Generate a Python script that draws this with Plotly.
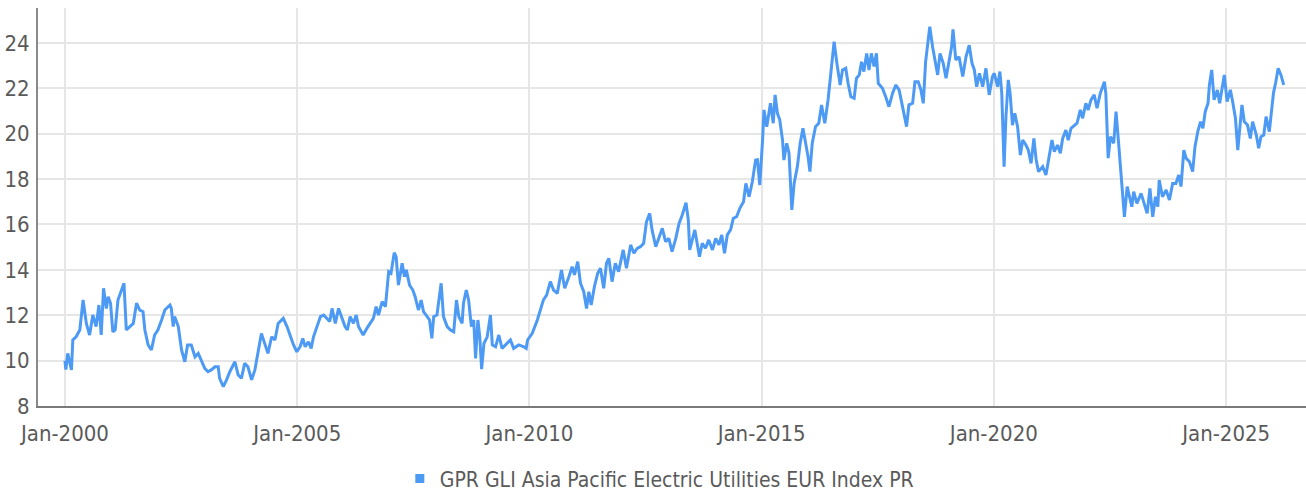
import pandas as pd
import plotly.graph_objects as go

SERIES_NAME = "GPR GLI Asia Pacific Electric Utilities EUR Index PR"

# Decimal-year positions of the points
YEARS = [
    2000.00, 2000.02, 2000.06, 2000.14, 2000.17, 2000.24, 2000.32, 2000.39, 2000.46, 2000.53,
    2000.60, 2000.67, 2000.73, 2000.78, 2000.83, 2000.89, 2000.93, 2000.98, 2001.03, 2001.08,
    2001.14, 2001.21, 2001.27, 2001.32, 2001.39, 2001.47, 2001.54, 2001.61, 2001.68, 2001.72,
    2001.79, 2001.86, 2001.93, 2002.00, 2002.08, 2002.15, 2002.26, 2002.29, 2002.33, 2002.36,
    2002.44, 2002.51, 2002.58, 2002.64, 2002.72, 2002.80, 2002.87, 2002.94, 2003.01, 2003.08,
    2003.15, 2003.23, 2003.30, 2003.33, 2003.41, 2003.48, 2003.55, 2003.66, 2003.73, 2003.80,
    2003.87, 2003.94, 2004.02, 2004.09, 2004.16, 2004.23, 2004.30, 2004.37, 2004.45, 2004.52,
    2004.59, 2004.70,
    2004.78, 2004.85, 2004.92, 2004.99, 2005.06, 2005.12, 2005.17, 2005.24, 2005.30, 2005.35,
    2005.42, 2005.50, 2005.57, 2005.64, 2005.70, 2005.75, 2005.82, 2005.89, 2005.96, 2006.03,
    2006.08, 2006.14, 2006.21, 2006.27, 2006.32, 2006.42, 2006.50, 2006.57, 2006.64, 2006.70,
    2006.75, 2006.83, 2006.90, 2006.97, 2007.02, 2007.09, 2007.13, 2007.18, 2007.26, 2007.31,
    2007.35, 2007.42, 2007.49, 2007.54, 2007.61, 2007.67, 2007.72, 2007.80, 2007.85, 2007.90,
    2007.94, 2008.01, 2008.05, 2008.10, 2008.15, 2008.23, 2008.30, 2008.37, 2008.43, 2008.48,
    2008.55, 2008.58, 2008.64, 2008.69, 2008.75, 2008.80, 2008.84, 2008.89, 2008.93, 2008.97,
    2009.02, 2009.09, 2009.16, 2009.20, 2009.27, 2009.34, 2009.41, 2009.48, 2009.59, 2009.66,
    2009.77, 2009.88, 2009.93,
    2009.96, 2010.06, 2010.17, 2010.24, 2010.30, 2010.37, 2010.45, 2010.52, 2010.60, 2010.69,
    2010.76, 2010.85, 2010.92, 2010.97, 2011.04, 2011.10, 2011.17, 2011.23, 2011.28, 2011.33,
    2011.40, 2011.47, 2011.53, 2011.60, 2011.66, 2011.71, 2011.78, 2011.85, 2011.92, 2012.02,
    2012.09, 2012.18, 2012.25, 2012.32, 2012.39, 2012.46, 2012.52, 2012.59, 2012.64, 2012.72,
    2012.79, 2012.86, 2012.93, 2013.00, 2013.07, 2013.15, 2013.22, 2013.29, 2013.37, 2013.42,
    2013.45, 2013.51, 2013.56, 2013.61, 2013.66, 2013.72, 2013.79, 2013.86, 2013.94, 2014.01,
    2014.08, 2014.14, 2014.20, 2014.26, 2014.33, 2014.39, 2014.46, 2014.53, 2014.61,
    2014.66, 2014.73, 2014.80, 2014.87, 2014.91, 2014.96, 2015.02, 2015.05, 2015.11, 2015.19,
    2015.25, 2015.29, 2015.34, 2015.39, 2015.45, 2015.48, 2015.54, 2015.59, 2015.65, 2015.70,
    2015.77, 2015.83, 2015.89, 2015.95, 2016.00, 2016.04, 2016.09, 2016.16, 2016.23, 2016.29,
    2016.36, 2016.43, 2016.49, 2016.56, 2016.62, 2016.69, 2016.74, 2016.81, 2016.86, 2016.92,
    2016.99, 2017.04, 2017.10, 2017.15, 2017.20, 2017.26, 2017.31, 2017.36, 2017.42, 2017.47,
    2017.51, 2017.60, 2017.67, 2017.74, 2017.82, 2017.89, 2017.96, 2018.02, 2018.07, 2018.12,
    2018.17, 2018.25, 2018.30, 2018.37, 2018.43, 2018.48, 2018.53, 2018.58, 2018.62, 2018.68,
    2018.73, 2018.79, 2018.84, 2018.91, 2018.97, 2019.04, 2019.09, 2019.12, 2019.18, 2019.25,
    2019.33, 2019.40, 2019.47, 2019.53, 2019.58, 2019.63, 2019.69, 2019.76, 2019.83, 2019.90,
    2019.97,
    2020.01, 2020.08, 2020.13, 2020.17, 2020.22, 2020.26, 2020.31, 2020.35, 2020.40, 2020.45,
    2020.51, 2020.57, 2020.62, 2020.69, 2020.74, 2020.80, 2020.86, 2020.91, 2020.96, 2021.05,
    2021.12, 2021.19, 2021.25, 2021.30, 2021.37, 2021.43, 2021.48, 2021.55, 2021.60, 2021.66,
    2021.73, 2021.79, 2021.86, 2021.91, 2021.98, 2022.03, 2022.09, 2022.16, 2022.22, 2022.29,
    2022.38, 2022.41, 2022.46, 2022.51, 2022.58, 2022.63, 2022.68, 2022.72, 2022.77, 2022.81,
    2022.87, 2022.92, 2022.97, 2023.01, 2023.08, 2023.17, 2023.24, 2023.30, 2023.36, 2023.42,
    2023.48, 2023.53, 2023.56, 2023.63, 2023.71, 2023.78, 2023.85, 2023.92, 2023.98, 2024.03,
    2024.09, 2024.14, 2024.21, 2024.28, 2024.33, 2024.39, 2024.45, 2024.50, 2024.55, 2024.61,
    2024.64, 2024.69, 2024.74, 2024.81, 2024.86, 2024.91, 2024.96, 2025.02, 2025.09, 2025.14,
    2025.20, 2025.25, 2025.30, 2025.34, 2025.39, 2025.46, 2025.52, 2025.57, 2025.65, 2025.70,
    2025.75, 2025.81, 2025.86, 2025.93, 2025.98, 2026.02, 2026.07, 2026.12, 2026.18, 2026.24,
]

VALUES = [
    10.00, 9.60, 10.32, 9.59, 10.91, 11.05, 11.35, 12.67, 11.64, 11.13,
    12.01, 11.50, 12.45, 11.13, 13.19, 12.30, 12.82, 12.53, 11.27, 11.35,
    12.67, 13.11, 13.41, 11.35, 11.50, 11.64, 12.53, 12.23, 12.16, 11.35,
    10.69, 10.47, 11.13, 11.35, 11.79, 12.23, 12.45, 12.30, 11.50, 11.94,
    11.50, 10.47, 9.95, 10.69, 10.69, 10.17, 10.32, 9.95, 9.66, 9.51,
    9.59, 9.73, 9.73, 9.22, 8.85, 9.15, 9.51, 9.95, 9.37, 9.22,
    9.88, 9.73, 9.15, 9.59, 10.32, 11.20, 10.76, 10.32, 11.05, 10.91,
    11.64, 11.86,
    11.50, 11.05, 10.69, 10.39, 10.61, 10.98, 10.61, 10.83, 10.54, 11.05,
    11.50, 11.94, 12.01, 11.86, 11.72, 12.30, 11.64, 12.30, 11.94, 11.50,
    11.35, 11.94, 11.64, 12.01, 11.50, 11.13, 11.42, 11.64, 11.86, 12.38,
    12.01, 12.60, 12.38, 13.92, 13.85, 14.76, 14.58, 13.33, 14.29, 13.70,
    14.00, 13.33, 13.11, 12.82, 12.23, 12.67, 12.16, 11.94, 11.79, 10.98,
    11.94, 12.01, 12.75, 13.41, 11.94, 11.50, 11.35, 11.27, 12.67, 11.94,
    11.64, 12.53, 13.11, 12.67, 11.50, 11.79, 10.10, 11.79, 11.05, 9.62,
    10.76, 11.05, 12.01, 10.69, 10.61, 11.13, 10.54, 10.69, 10.91, 10.54,
    10.69, 10.61, 10.54,
    10.91, 11.20, 11.79, 12.23, 12.67, 12.89, 13.48, 13.11, 12.96, 13.99,
    13.19, 13.70, 14.14, 13.78, 14.36, 13.41, 13.04, 12.30, 13.04, 12.45,
    13.26, 13.85, 14.07, 13.19, 14.29, 14.51, 13.48, 14.29, 13.92, 14.88,
    14.07, 15.10, 14.73, 14.95, 15.02, 15.17, 16.12, 16.49, 15.76, 15.02,
    15.39, 15.83, 15.24, 15.39, 14.80, 15.39, 16.05, 16.42, 16.96, 16.20,
    14.88, 15.39, 15.76, 15.17, 14.58, 15.17, 14.95, 15.32, 14.88, 15.39,
    15.10, 15.54, 14.73, 15.54, 15.76, 16.27, 16.34, 16.71, 17.00,
    17.81, 17.22, 17.89, 18.84, 18.85, 17.74, 19.72, 21.05, 20.31, 21.34,
    20.46, 21.71, 20.90, 20.61, 19.72, 18.84, 19.58, 19.14, 16.64, 17.81,
    18.55, 19.58, 20.24, 19.58, 18.99, 18.33, 19.58, 20.31, 20.46, 21.27,
    20.46, 21.49, 22.81, 24.06, 23.10, 22.15, 22.81, 22.88, 22.22, 21.63,
    21.56, 22.44, 22.59, 23.17, 22.74, 23.54, 22.81, 23.54, 22.96, 23.54,
    22.22, 22.00, 21.63, 21.19, 21.80, 22.15, 21.92, 21.34, 20.82, 20.31,
    21.27, 21.34, 22.29, 22.29, 21.92, 21.34, 23.17, 23.98, 24.72, 23.83,
    23.32, 22.59, 23.54, 23.10, 22.44, 23.25, 23.83, 24.60, 23.25, 23.39,
    22.52, 23.39, 23.90, 23.10, 22.81, 22.07, 22.66, 22.07, 22.88, 21.71,
    22.52,
    22.66, 22.07, 22.74, 21.80, 18.55, 20.75, 22.37, 21.78, 20.38, 20.90,
    20.31, 19.06, 19.72, 19.50, 19.28, 18.69, 19.79, 18.84, 18.33, 18.55,
    18.18, 19.00, 19.72, 19.21, 19.50, 19.14, 19.79, 20.16, 19.72, 20.24,
    20.38, 20.46, 21.05, 20.68, 21.34, 21.05, 21.49, 21.71, 21.12, 21.78,
    22.29, 21.78, 18.92, 19.87, 19.58, 20.97, 19.72, 18.69, 17.52, 16.34,
    17.67, 17.22, 16.78, 17.45, 16.93, 17.37, 16.93, 16.49, 17.59, 16.34,
    17.22, 16.78, 17.96, 17.22, 17.52, 17.08, 17.81, 17.81, 18.18, 17.67,
    19.28, 18.92, 18.77, 18.33, 19.43, 20.09, 20.53, 20.24, 20.97, 21.34,
    22.15, 22.81, 21.49, 21.93, 21.34, 22.00, 22.59, 21.41, 21.93, 21.41,
    20.68, 19.28, 20.60, 21.27, 20.53, 20.38, 19.79, 20.53, 19.94, 19.36,
    19.87, 19.94, 20.75, 20.09, 21.05, 21.80, 22.29, 22.88, 22.59, 22.15,
]

TICK_YEARS = [2000, 2005, 2010, 2015, 2020, 2025]
Y_TICKS = [8, 10, 12, 14, 16, 18, 20, 22, 24]


def to_date(dec_year):
    yr = int(dec_year)
    frac = dec_year - yr
    start = pd.Timestamp(yr, 1, 1)
    end = pd.Timestamp(yr + 1, 1, 1)
    return start + (end - start) * frac


dates = [to_date(y) for y in YEARS]

LINE_COLOR = "#4d9af5"
FONT = "DejaVu Sans Condensed, Liberation Sans Narrow, sans-serif"
TEXT_COLOR = "#5a5a5a"
GRID = "#e6e6e6"

fig = go.Figure()
fig.add_trace(go.Scatter(
    x=dates, y=VALUES, mode="lines",
    line=dict(color=LINE_COLOR, width=3),
    showlegend=False, hoverinfo="skip",
))
fig.add_trace(go.Scatter(
    x=[None], y=[None], mode="markers", name=SERIES_NAME,
    marker=dict(symbol="square", size=9, color=LINE_COLOR),
))

fig.update_layout(
    width=1306, height=493, autosize=False,
    margin=dict(l=38, r=0, t=8, b=87, autoexpand=False),
    paper_bgcolor="white", plot_bgcolor="white",
    font=dict(family=FONT, size=22, color=TEXT_COLOR),
    legend=dict(orientation="h", x=0.49, xanchor="center", y=-0.183, yanchor="middle",
                font=dict(family=FONT, size=21, color=TEXT_COLOR),
                itemwidth=30),
)
fig.update_xaxes(
    type="date",
    range=[to_date(1999.42), to_date(2026.72)],
    tickvals=[pd.Timestamp(y, 1, 1) for y in TICK_YEARS],
    tickformat="%b-%Y",
    showgrid=True, gridcolor=GRID, gridwidth=2,
    showline=True, linecolor="#7a7a7a", linewidth=2,
    ticks="", zeroline=False, automargin=False,
    ticklabelstandoff=7,
)
fig.update_yaxes(
    range=[8, 25.54],
    tickvals=Y_TICKS,
    showgrid=True, gridcolor=GRID, gridwidth=2,
    showline=True, linecolor="#8a8a8a", linewidth=2,
    ticks="", zeroline=False, automargin=False,
    ticklabelstandoff=2,
)

fig.write_html(
    "out.html",
    config={"displayModeBar": False},
    post_script="document.body.style.margin='0';document.body.style.overflow='hidden';",
)
